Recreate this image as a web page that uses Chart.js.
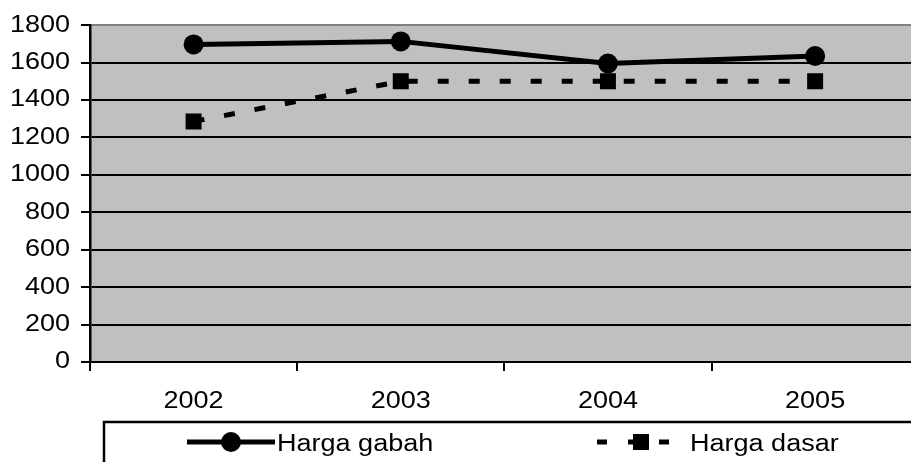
<!DOCTYPE html>
<html><head><meta charset="utf-8">
<script src="https://cdn.jsdelivr.net/npm/chart.js@4/dist/chart.umd.min.js"></script>
<style>
html,body{margin:0;padding:0;background:#fff;overflow:hidden}
#wrap{width:911px;height:462px;overflow:hidden;position:relative}
#box{width:930px;height:462px;position:absolute;left:0;top:0}
</style></head><body>
<div id="wrap"><div id="box"><canvas id="c"></canvas></div></div>
<script>
const categories = ['2002', '2003', '2004', '2005'];
const hargaGabah = [1697, 1713, 1595, 1635];
const hargaDasar = [1285, 1500, 1500, 1500];
const yTickValues = [0, 200, 400, 600, 800, 1000, 1200, 1400, 1600, 1800];
const seriesNames = ['Harga gabah', 'Harga dasar'];

const FAMILY = '"Liberation Sans", Arial, sans-serif';
const FSIZE = 23.5;
const FONT = FSIZE + 'px ' + FAMILY;
const SX = 1.15; // horizontal text stretch of the reference

const stretchText = {
  id: 'stretchText',
  beforeDraw(chart) {
    const ctx = chart.ctx;
    if (!ctx._stretched) {
      const orig = ctx.fillText;
      ctx.fillText = function (t, x, y) {
        this.save();
        this.translate(x, y);
        this.scale(SX, 1);
        orig.call(this, t, 0, 0);
        this.restore();
      };
      ctx._stretched = true;
    }
  }
};

const plotBg = {
  id: 'plotBg',
  beforeDraw(chart) {
    const a = chart.chartArea, ctx = chart.ctx;
    ctx.save();
    ctx.fillStyle = '#C0C0C0';
    ctx.fillRect(a.left, a.top, a.right - a.left, a.bottom - a.top);
    ctx.restore();
  }
};

const boxLegend = {
  id: 'boxLegend',
  afterDraw(chart) {
    const ctx = chart.ctx;
    ctx.save();
    ctx.strokeStyle = '#000';
    ctx.lineWidth = 2.5;
    ctx.strokeRect(104, 422, 1000, 200);
    const y = 442;
    ctx.lineWidth = 5;
    ctx.setLineDash([]);
    ctx.beginPath(); ctx.moveTo(187, y); ctx.lineTo(275, y); ctx.stroke();
    ctx.fillStyle = '#000';
    ctx.beginPath(); ctx.arc(231, y, 10, 0, Math.PI * 2); ctx.fill();
    ctx.setLineDash([10, 21]);
    ctx.beginPath(); ctx.moveTo(597, y); ctx.lineTo(669, y); ctx.stroke();
    ctx.setLineDash([]);
    ctx.fillRect(633, y - 8, 16, 16);
    ctx.font = FONT;
    ctx.textAlign = 'left';
    ctx.textBaseline = 'alphabetic';
    ctx.fillText(seriesNames[0], 277, 451);
    ctx.fillText(seriesNames[1], 690, 451);
    ctx.restore();
  }
};

new Chart(document.getElementById('c'), {
  type: 'line',
  data: {
    labels: categories,
    datasets: [
      {
        label: seriesNames[0],
        data: hargaGabah,
        borderColor: '#000',
        backgroundColor: '#000',
        borderWidth: 5,
        pointStyle: 'circle',
        pointRadius: 10,
        pointBorderWidth: 0,
        pointBackgroundColor: '#000',
        tension: 0
      },
      {
        label: seriesNames[1],
        data: hargaDasar,
        borderColor: '#000',
        backgroundColor: '#000',
        borderWidth: 5,
        borderDash: [11, 20],
        pointStyle: 'rect',
        pointRadius: 11.3,
        pointBorderWidth: 0,
        pointBackgroundColor: '#000',
        tension: 0
      }
    ]
  },
  options: {
    responsive: true,
    maintainAspectRatio: false,
    animation: false,
    events: [],
    layout: { padding: { top: 24, right: 8, left: 0, bottom: 0 } },
    plugins: { legend: { display: false }, tooltip: { enabled: false } },
    scales: {
      x: {
        offset: true,
        grid: {
          offset: true,
          drawOnChartArea: false,
          drawTicks: true,
          tickLength: 9,
          color: '#000',
          tickColor: '#000',
          lineWidth: 2
        },
        border: { display: true, color: '#000', width: 2 },
        ticks: { color: '#000', font: { family: FAMILY, size: FSIZE }, padding: 16, maxRotation: 0 },
        afterFit(s) { s.height = 100; }
      },
      y: {
        min: 0,
        max: 1800,
        afterBuildTicks(s) { s.ticks = yTickValues.map(v => ({ value: v })); },
        grid: {
          color: (c) => (c.tick && c.tick.value === 1800 ? '#808080' : '#000'),
          tickColor: '#000',
          lineWidth: 2,
          tickLength: 9
        },
        border: { display: true, color: '#000', width: 2.5 },
        ticks: {
          color: '#000',
          font: { family: FAMILY, size: FSIZE },
          padding: 11,
          callback: (v) => String(v)
        },
        afterFit(s) { s.width = 90; }
      }
    }
  },
  plugins: [stretchText, plotBg, boxLegend]
});
</script>
</body></html>
